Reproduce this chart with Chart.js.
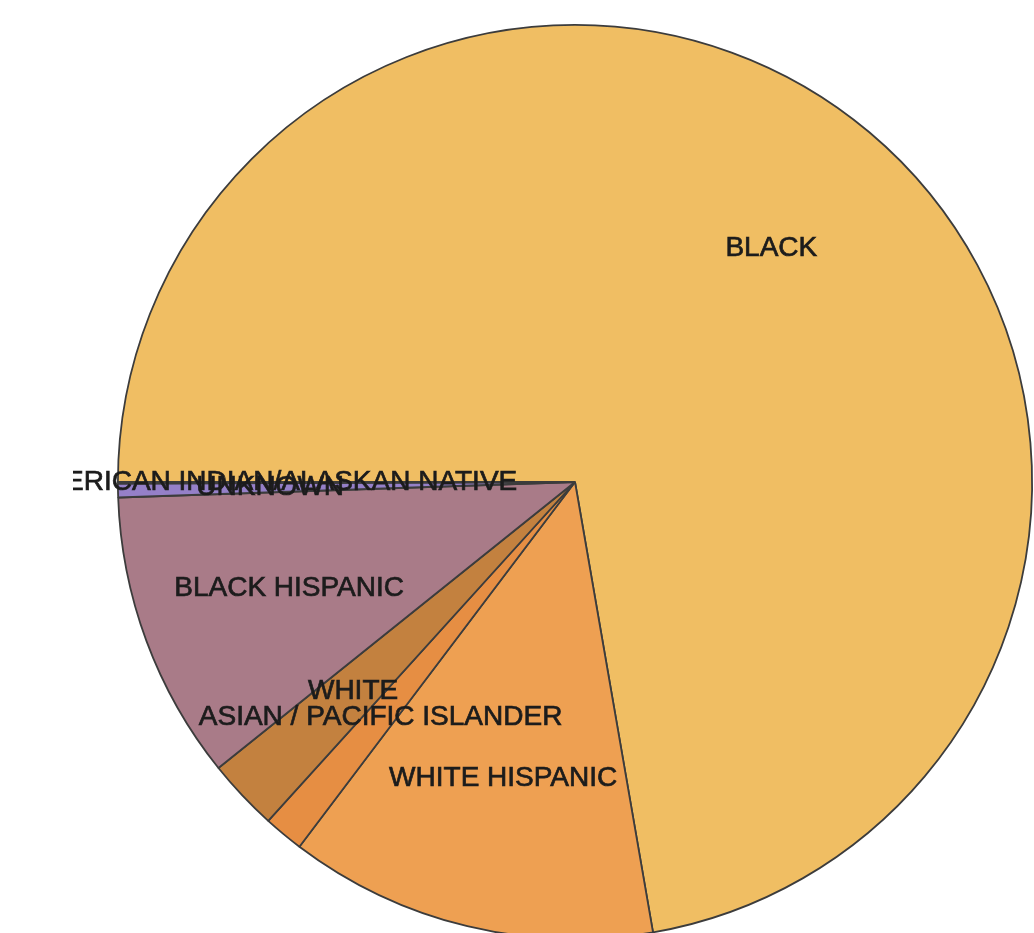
<!DOCTYPE html>
<html>
<head>
<meta charset="utf-8">
<script src="https://cdn.jsdelivr.net/npm/chart.js@4"></script>
<style>
  html, body { margin: 0; padding: 0; background: #fff; overflow: hidden; width: 1034px; height: 933px; }
  #wrap { position: absolute; left: 73px; top: 0; width: 1010px; height: 960px; }
</style>
</head>
<body>
<div id="wrap"><canvas id="raceChart"></canvas></div>
<script>
const labels = [
  "BLACK",
  "WHITE HISPANIC",
  "ASIAN / PACIFIC ISLANDER",
  "WHITE",
  "BLACK HISPANIC",
  "UNKNOWN",
  "AMERICAN INDIAN/ALASKAN NATIVE",
];
const counts = [7227, 1303, 141, 253, 1022, 48, 6];
const colors = ["#F0BE63", "#EEA052", "#E68E43", "#C3813F", "#A97B88", "#9580C8", "#7F6FB8"];

// labels sit at two thirds of the radius, on the middle angle of each slice
const sliceLabels = {
  id: "sliceLabels",
  afterDatasetsDraw(chart) {
    const ctx = chart.ctx;
    const meta = chart.getDatasetMeta(0);
    ctx.save();
    ctx.font = "28px 'Liberation Sans', Arial, sans-serif";
    ctx.fillStyle = "#1c1c1c";
    ctx.strokeStyle = "#1c1c1c";
    ctx.lineWidth = 0.7;
    ctx.textAlign = "center";
    ctx.textBaseline = "middle";
    meta.data.forEach((arc, i) => {
      const p = arc.getProps(["x", "y", "startAngle", "endAngle", "outerRadius"], true);
      const mid = (p.startAngle + p.endAngle) / 2;
      const r = p.outerRadius * 0.667;
      const tx = p.x + Math.cos(mid) * r;
      const ty = p.y + Math.sin(mid) * r;
      ctx.fillText(labels[i], tx, ty);
      ctx.strokeText(labels[i], tx, ty);
    });
    ctx.restore();
  },
};

new Chart(document.getElementById("raceChart"), {
  type: "pie",
  data: {
    labels: labels,
    datasets: [
      {
        data: counts,
        backgroundColor: colors,
        borderColor: "#3c3c3c",
        borderWidth: 1.8,
      },
    ],
  },
  options: {
    responsive: true,
    maintainAspectRatio: false,
    animation: false,
    rotation: 270,
    layout: { padding: { left: 44, top: 24, right: 50, bottom: 20 } },
    plugins: {
      legend: { display: false },
      tooltip: { enabled: false },
    },
  },
  plugins: [sliceLabels],
});
</script>
</body>
</html>
